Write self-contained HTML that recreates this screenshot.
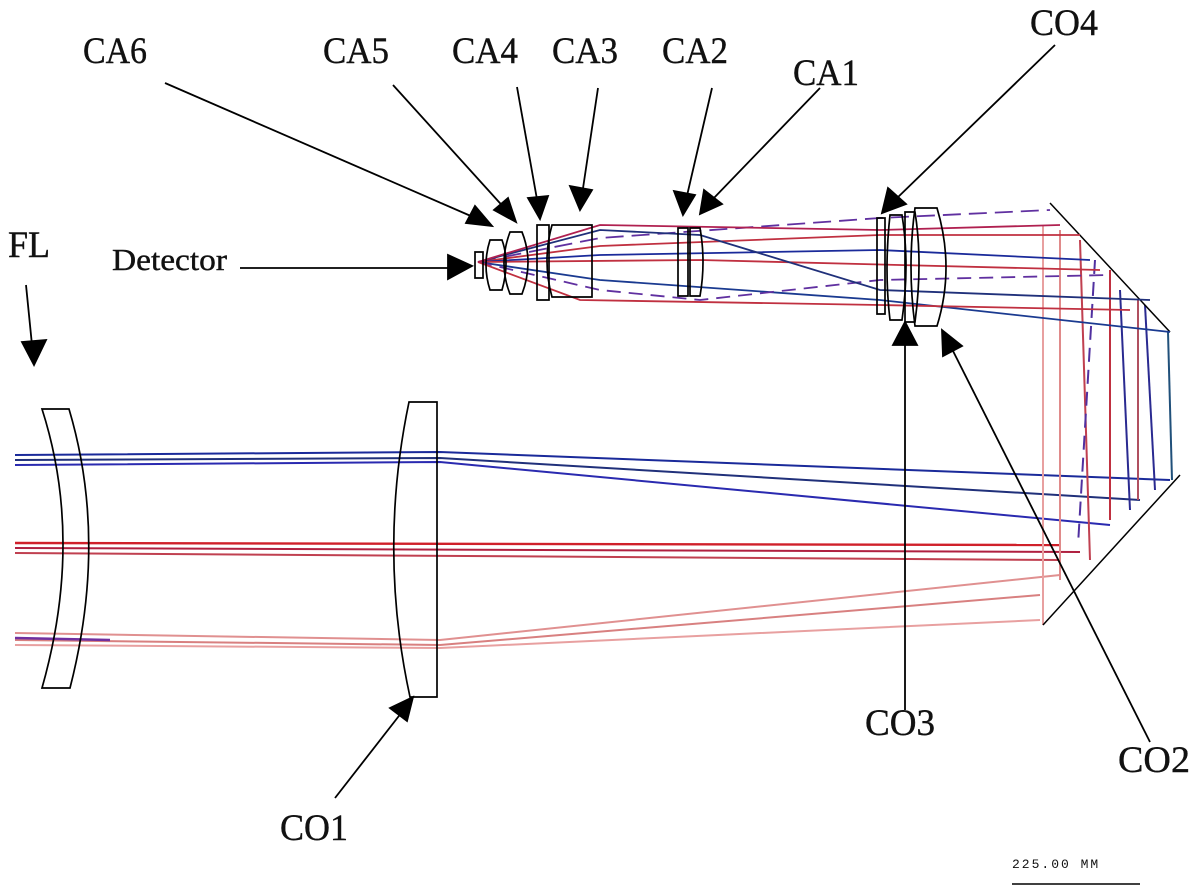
<!DOCTYPE html>
<html><head><meta charset="utf-8"><style>html,body{margin:0;padding:0;background:#fff}svg{display:block}</style></head>
<body>
<svg width="1200" height="896" viewBox="0 0 1200 896" xmlns="http://www.w3.org/2000/svg" font-family="Liberation Serif, serif">
<g fill="#111" stroke="#111" stroke-width="0.4">
<text x="83" y="63" font-size="37" textLength="64" lengthAdjust="spacingAndGlyphs">CA6</text>
<text x="323" y="63" font-size="37" textLength="66" lengthAdjust="spacingAndGlyphs">CA5</text>
<text x="452" y="63" font-size="37" textLength="66" lengthAdjust="spacingAndGlyphs">CA4</text>
<text x="552" y="63" font-size="37" textLength="66" lengthAdjust="spacingAndGlyphs">CA3</text>
<text x="662" y="63" font-size="37" textLength="66" lengthAdjust="spacingAndGlyphs">CA2</text>
<text x="793" y="85" font-size="37" textLength="66" lengthAdjust="spacingAndGlyphs">CA1</text>
<text x="1030" y="35" font-size="37" textLength="68" lengthAdjust="spacingAndGlyphs">CO4</text>
<text x="8" y="257" font-size="37" textLength="42" lengthAdjust="spacingAndGlyphs">FL</text>
<text x="112" y="270" font-size="31" textLength="115" lengthAdjust="spacingAndGlyphs">Detector</text>
<text x="865" y="735" font-size="37" textLength="70" lengthAdjust="spacingAndGlyphs">CO3</text>
<text x="1118" y="772" font-size="37" textLength="72" lengthAdjust="spacingAndGlyphs">CO2</text>
<text x="280" y="840" font-size="37" textLength="68" lengthAdjust="spacingAndGlyphs">CO1</text>
</g>
<text x="1012" y="868" font-size="13" font-family="Liberation Mono, monospace" letter-spacing="2" fill="#111">225.00  MM</text>
<line x1="1012" y1="884" x2="1140" y2="884" stroke="#000" stroke-width="1.5"/>

<g fill="none" stroke-width="2">
<path d="M15 455 L440 452 L1170 480" stroke="#1a2a9a"/>
<path d="M15 460 L440 458 L1140 500" stroke="#20307a"/>
<path d="M15 465 L440 462 L1110 525" stroke="#2a2ab0"/>
<path d="M15 543 L1060 545" stroke="#d0202a" stroke-width="2.4"/>
<path d="M15 548 L1080 552" stroke="#b02040"/>
<path d="M15 553 L1060 560" stroke="#c04050"/>
<path d="M15 633 L440 640 L1060 575" stroke="#e09090"/>
<path d="M15 640 L440 645 L1040 595" stroke="#d88080"/>
<path d="M15 645 L440 648 L1040 620" stroke="#e8a0a0"/>
<path d="M15 638 L110 640" stroke="#7030a0" stroke-width="2.5"/>
<path d="M1043 225 L1043 625" stroke="#e8a0a0"/>
<path d="M1060 230 L1060 580" stroke="#e08a8a"/>
<path d="M1080 240 L1090 560" stroke="#c04050"/>
<path d="M1095 260 L1078 545" stroke="#5030a0" stroke-dasharray="14 8"/>
<path d="M1110 270 L1110 520" stroke="#c03040"/>
<path d="M1120 290 L1130 510" stroke="#2a2a90"/>
<path d="M1138 300 L1138 500" stroke="#b05060"/>
<path d="M1145 305 L1155 490" stroke="#2a2a90"/>
<path d="M1168 332 L1172 480" stroke="#20507a"/>
</g>
<line x1="1050" y1="203" x2="1170" y2="332" stroke="#000" stroke-width="1.5"/>
<line x1="1043" y1="625" x2="1180" y2="475" stroke="#000" stroke-width="1.5"/>

<g fill="none" stroke-width="1.8">
<path d="M478 262 L600 238 L880 218 L1050 210" stroke="#6030a0" stroke-dasharray="18 8"/>
<path d="M478 262 L600 246 L880 235 L1080 235" stroke="#c03040"/>
<path d="M478 262 L600 255 L880 250 L1090 260" stroke="#1a2a9a"/>
<path d="M478 262 L700 260 L1100 270" stroke="#c03040"/>
<path d="M478 262 L600 280 L880 300 L1170 332" stroke="#1a3a90"/>
<path d="M478 262 L600 290 L700 300 L880 280 L1110 275" stroke="#6030a0" stroke-dasharray="14 8"/>
<path d="M478 262 L600 230 L700 235 L880 290 L1150 300" stroke="#20307a"/>
<path d="M478 262 L580 300 L880 305 L1130 310" stroke="#c03040"/>
<path d="M478 262 L600 225 L880 230 L1060 225" stroke="#b02050"/>
</g>

<g fill="none" stroke="#000" stroke-width="1.7">
<path d="M42 409 L69 409 Q108 540 70 688 L42 688 Q84 540 42 409 Z"/>
<path d="M409 402 L437 402 L437 697 L410 697 Q378 550 409 402 Z"/>
<path d="M475 252 h8 v26 h-8 z"/>
<path d="M490 240 h12 q8 22 0 50 h-12 q-8-25 0-50z"/>
<path d="M510 232 h12 q12 30 0 62 h-12 q-12-30 0-62z"/>
<path d="M537 225 h12 v75 h-12 z"/>
<path d="M552 225 h40 v72 h-40 q-10-36 0-72z"/>
<path d="M678 228 h10 v68 h-10 z"/>
<path d="M690 228 h10 q6 34 0 68 h-10z"/>
<path d="M877 218 h8 v96 h-8 z"/>
<path d="M890 215 h12 q8 50 0 105 h-12 q-6-50 0-105z"/>
<path d="M905 212 h10 q8 50 0 110 h-10z"/>
<path d="M915 208 h22 q18 60 0 118 h-22 q-8-60 0-118z"/>
</g>

<g stroke="#000" stroke-width="1.8" fill="#000">
<line x1="165" y1="83" x2="480" y2="220"/><polygon points="492,226 466,223 475,206"/>
<line x1="393" y1="85" x2="508" y2="212"/><polygon points="516,222 494,210 508,198"/>
<line x1="517" y1="87" x2="538" y2="205"/><polygon points="540,219 528,198 548,196"/>
<line x1="598" y1="88" x2="582" y2="195"/><polygon points="580,210 570,186 592,190"/>
<line x1="712" y1="88" x2="686" y2="200"/><polygon points="683,215 674,191 695,195"/>
<line x1="820" y1="88" x2="712" y2="200"/><polygon points="700,214 704,190 722,204"/>
<line x1="1055" y1="45" x2="895" y2="200"/><polygon points="882,213 888,188 906,204"/>
<line x1="240" y1="268" x2="455" y2="268"/><polygon points="472,266 448,255 448,279"/>
<line x1="26" y1="285" x2="32" y2="345"/><polygon points="34,365 22,342 46,340"/>
<line x1="905" y1="710" x2="905" y2="340"/><polygon points="905,322 893,345 917,345"/>
<line x1="1150" y1="742" x2="950" y2="345"/><polygon points="942,330 943,356 962,346"/>
<line x1="335" y1="798" x2="402" y2="712"/><polygon points="413,697 390,708 407,721"/>
</g>
</svg>
</body></html>
